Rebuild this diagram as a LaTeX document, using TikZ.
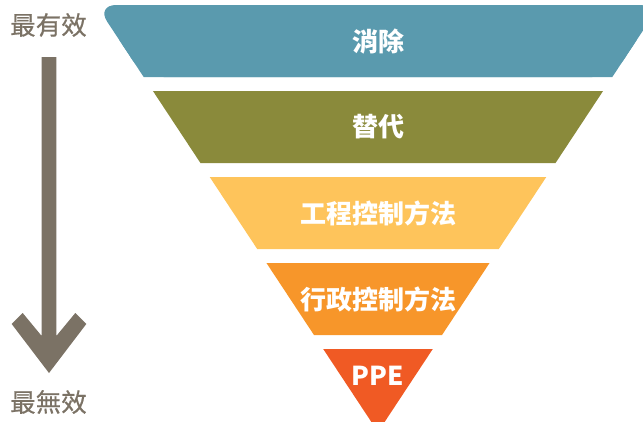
\documentclass[tikz,border=0pt]{standalone}
\usepackage{fontspec}
\newfontfamily\cjk{Noto Sans CJK TC}
\newfontfamily\cjkm{Noto Sans CJK TC}[FakeBold=0.6]
\definecolor{cA}{HTML}{5A9AAE}
\definecolor{cB}{HTML}{8A8A3B}
\definecolor{cC}{HTML}{FEC45B}
\definecolor{cD}{HTML}{F7962A}
\definecolor{cE}{HTML}{F05A24}
\definecolor{gr}{HTML}{7B7265}
\tikzset{
  bandlabel/.style={text=white,font=\cjk\bfseries\fontsize{26}{29}\selectfont,inner sep=0pt,anchor=center},
  sidelabel/.style={text=gr,font=\cjkm\fontsize{25.5}{28}\selectfont,inner sep=0pt,anchor=center}
}
\begin{document}
\begin{tikzpicture}[x=1pt,y=-1pt]
\useasboundingbox (0,0) rectangle (643,421);
\clip (0,0) rectangle (643,421);
% left edge: x = 378 - 0.66*(432-y); right edge: x = 378 + 0.66*(432-y)
\fill[cA,rounded corners=20pt] (143.7,77) -- (96.18,5) -- (659.82,5) -- (612.3,77) -- cycle;
\fill[cA] (119.28,40) -- (636.72,40) -- (612.3,77) -- (143.7,77) -- cycle;
\fill[cB] (152.94,91) -- (603.06,91) -- (555.54,163) -- (200.46,163) -- cycle;
\fill[cC] (209.7,177) -- (546.3,177) -- (498.78,249) -- (257.22,249) -- cycle;
\fill[cD] (266.46,263) -- (489.54,263) -- (442.02,335) -- (313.98,335) -- cycle;
\fill[cE] (323.22,349) -- (432.78,349) -- (378,432) -- cycle;
\node[bandlabel] (b1) at (378,42) {消除};
\node[bandlabel] (b2) at (378,127) {替代};
\node[bandlabel] (b3) at (378,213) {工程控制方法};
\node[bandlabel] (b4) at (378,299) {行政控制方法};
\node[bandlabel] (b5) at (378,376) {PPE};
% arrow
\fill[gr] (41.7,57) -- (41.7,336) -- (22.7,313) -- (11.7,324) -- (49,373) -- (86.3,324) -- (75.3,313) -- (56.3,336) -- (56.3,57) -- cycle;
\node[sidelabel] (top) at (48.5,25) {最有效};
\node[sidelabel] (bot) at (48.5,402) {最無效};
\end{tikzpicture}
\end{document}
